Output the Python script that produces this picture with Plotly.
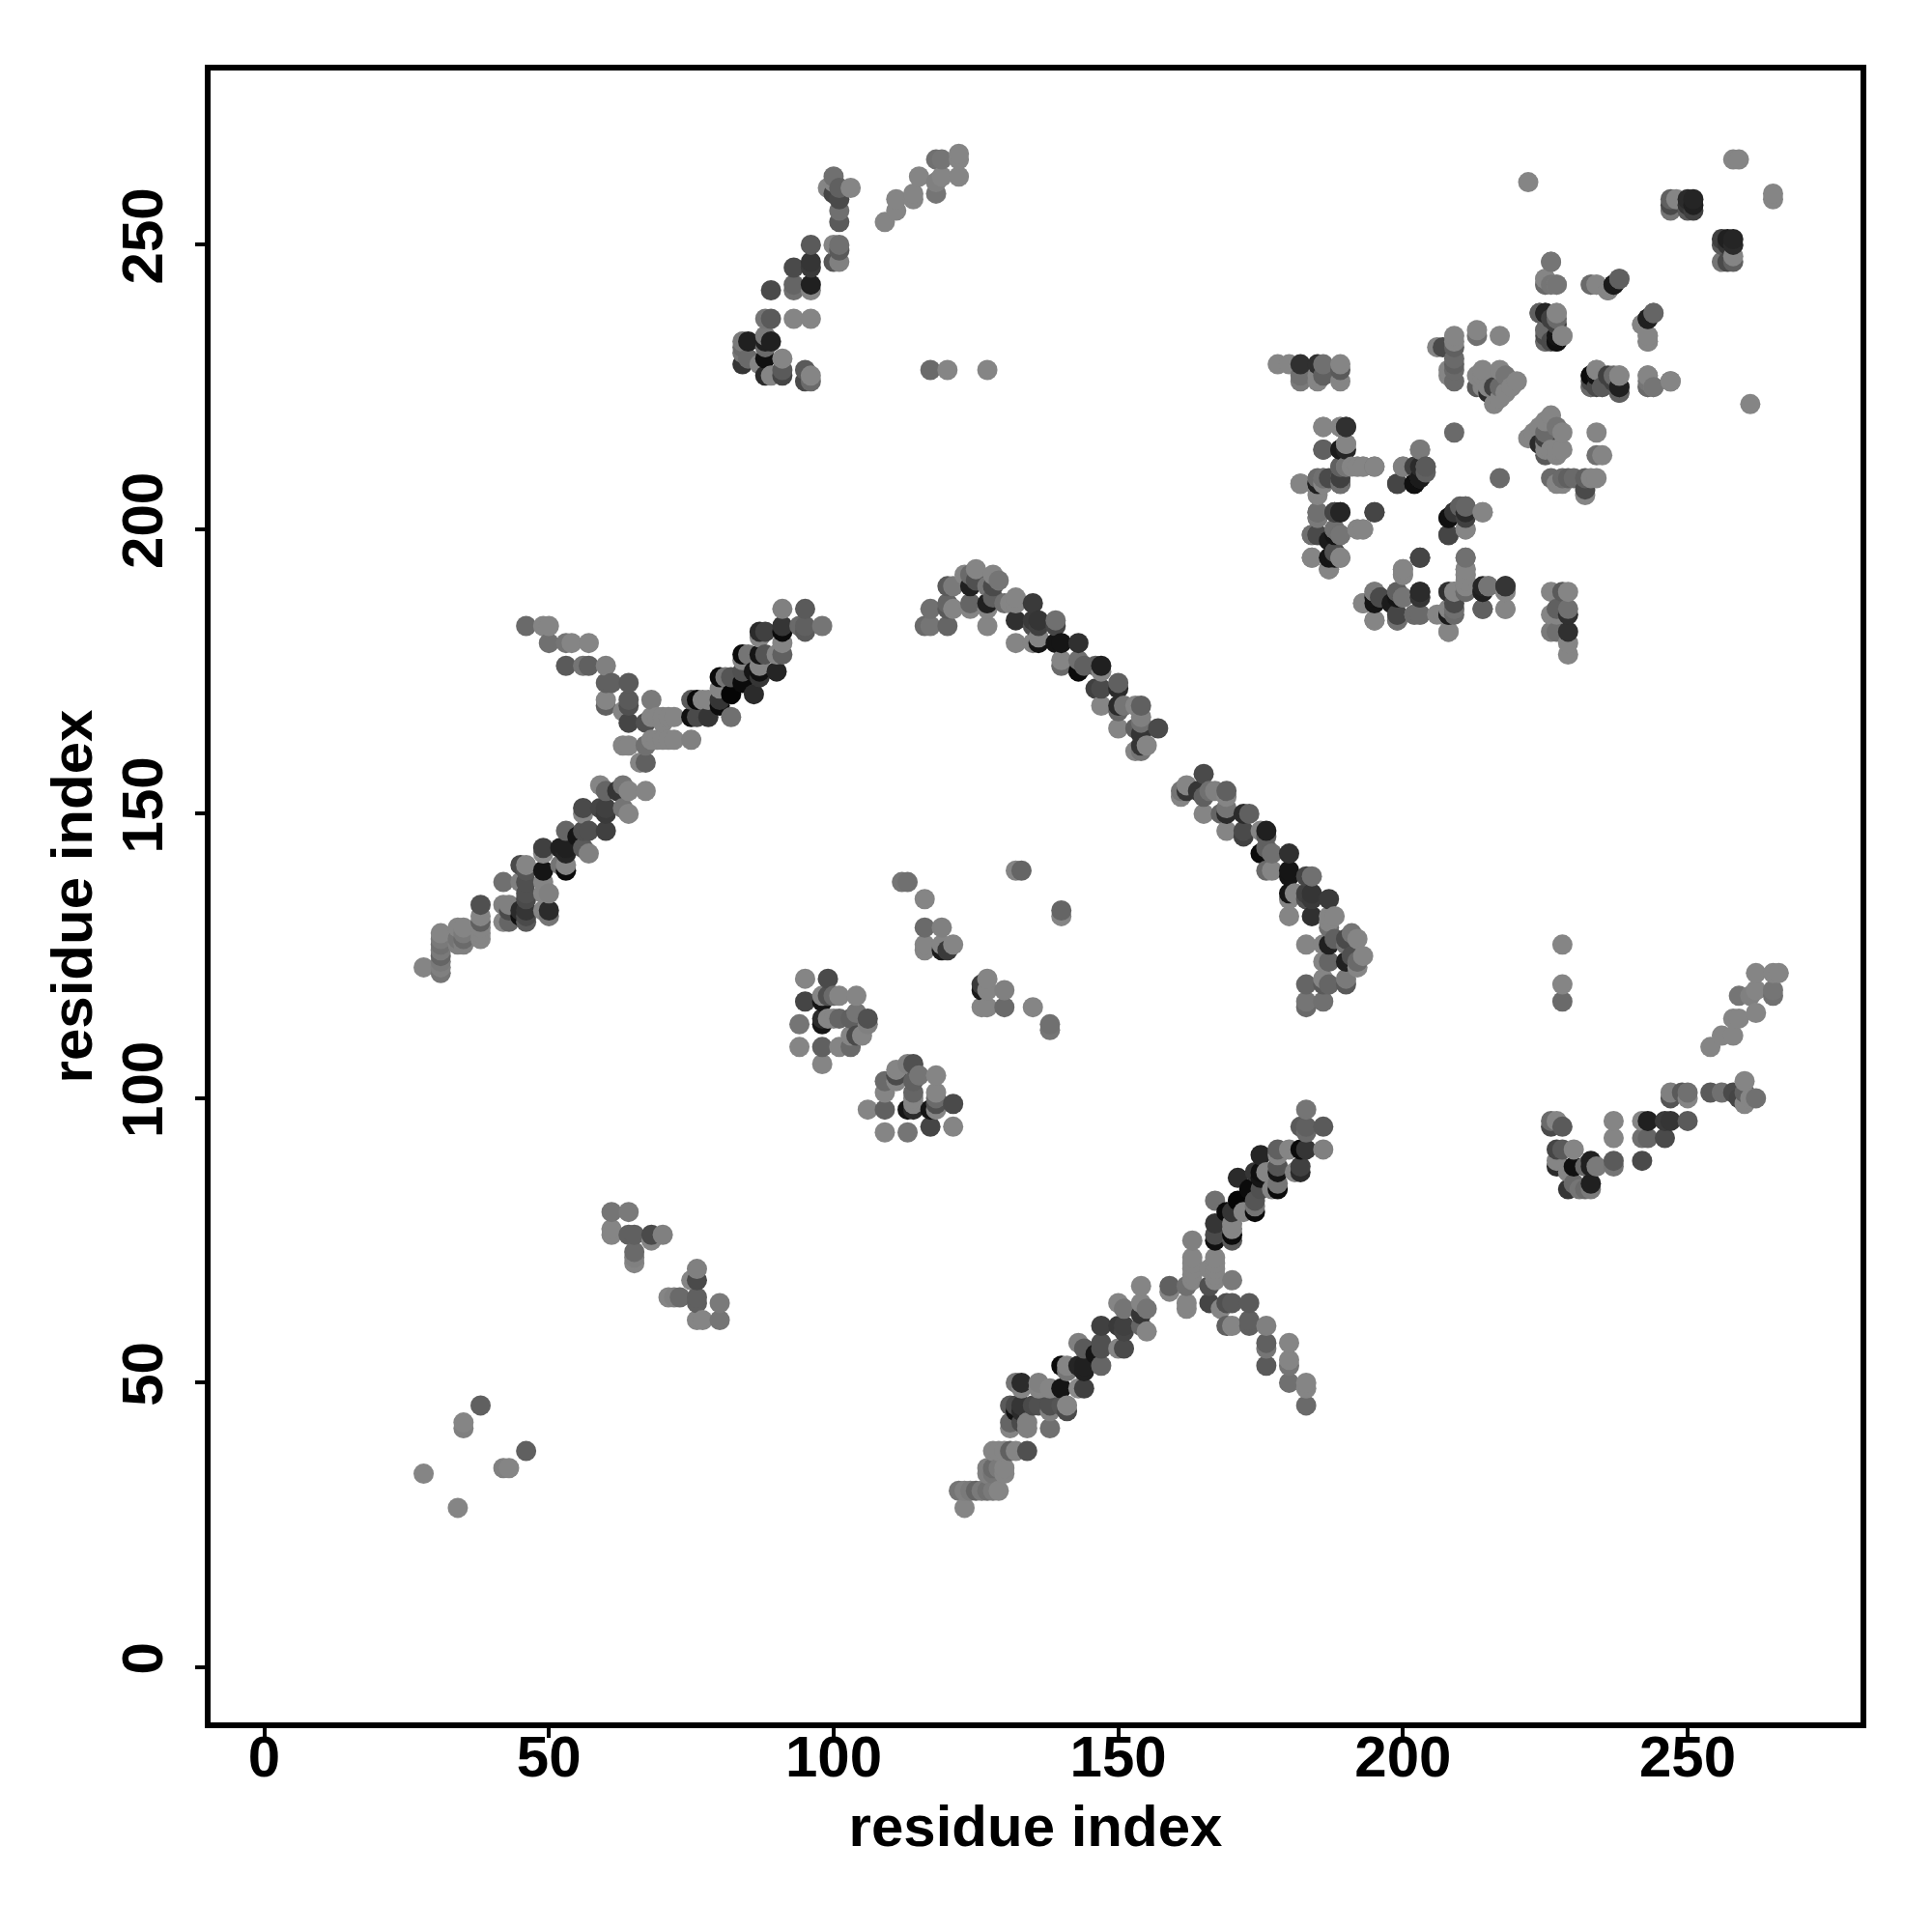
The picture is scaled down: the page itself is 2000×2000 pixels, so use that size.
import numpy as np
import plotly.graph_objects as go

# contacts as (residue i, residue j, grey level); the map is symmetric
band = [(28,123,125),(31,122,110),(31,123,120),(31,124,115),(31,125,95),(31,126,115),(31,127,105),(31,128,115),(31,129,125),
(34,127,120),(34,128,110),(34,130,125),(35,127,120),(35,128,100),(35,129,115),(35,130,125),
(38,128,125),(38,129,125),(38,130,125),(38,131,90),(38,132,125),(38,134,75),
(42,131,125),(42,134,120),(42,138,105),(43,131,95),(43,133,70),(43,134,120),
(45,132,15),(45,133,40),(45,138,120),(45,141,70),
(46,131,85),(46,132,70),(46,133,50),(46,135,70),(46,136,75),(46,138,75),(46,140,80),(46,141,125),
(49,133,125),(49,136,125),(49,138,125),(49,140,20),(49,143,130),(49,144,60),
(50,132,110),(50,133,40),(50,136,120),
(52,141,110),(52,144,30),(53,140,10),(53,141,125),(53,143,35),(53,144,30),(53,147,95),
(55,146,20),(56,144,85),(56,147,75),(56,150,125),(56,151,70),(57,143,120),(57,147,75),
(59,151,65),(59,155,125),(60,147,60),(60,150,55),(60,151,60),(60,154,95),(62,154,50),
(63,151,110),(63,155,110),(63,162,125),(64,150,125),(64,154,125),(64,162,125),
(66,159,125),(67,154,125),(67,159,90),(67,162,105),(67,166,75),
(68,163,125),(68,167,125),(68,170,115),(69,163,125),(69,167,125),(70,163,125),(70,166,125),(70,167,125),(71,163,125),(71,167,125),(72,163,125),(72,167,125),
(75,163,120),(75,167,15),(75,170,85),(76,167,70),(76,170,10),(77,170,125),(78,167,50),(78,170,125),
(80,169,10),(80,170,50),(80,172,125),(80,174,10),(81,174,110),(82,167,105),(82,171,5),(82,174,80),
(84,173,10),(84,175,75),(84,177,125),(84,178,10),(85,178,110),(86,171,40),(86,175,20),
(87,174,50),(87,175,15),(87,176,125),(87,178,20),(87,181,125),(87,182,40),(88,178,80),(88,182,60),
(90,175,35),(90,178,125),(91,178,90),(91,180,125),(91,182,10),(91,183,50),(91,186,120),
(94,183,100),(95,182,85),(95,183,90),(95,186,85),(98,183,110)]

arm = [(46,183,100),(49,183,125),(50,183,125),(50,180,105),(53,180,110),(54,180,125),(57,180,125),
(53,176,85),(56,176,110),(57,176,90),(60,176,120),(60,173,90),(61,173,90),(64,173,85),
(60,169,90),(60,170,125),(63,168,125),(64,166,65),(64,169,75),(64,170,85)]

arc = [(116,183,100),(117,183,110),(120,183,95),(127,183,125),(117,186,105),(120,186,85),(120,187,95),(121,186,125),
(124,186,125),(124,187,95),(127,186,125),(127,187,30),(128,188,90),(120,190,85),(121,190,115),
(123,192,125),(124,190,30),(124,192,100),(125,191,75),(125,193,125),(127,190,110),(128,190,70),(128,192,125),(129,191,110),
(130,187,105),(131,187,125),(132,187,125),(132,188,125),(135,187,55),(132,180,125),(132,184,45),
(135,180,125),(135,183,75),(135,184,55),(136,180,20),(136,181,125),(136,183,60),(136,184,50),
(139,180,20),(139,183,65),(139,184,105),(140,180,20),(143,180,45),(140,176,100),(140,177,125),
(143,175,10),(143,177,105),(144,176,90),(146,172,60),(146,176,90),(147,172,70),(147,175,125),(147,176,30),
(150,172,40),(150,173,90),(147,169,125),(150,168,95),(150,169,40),(151,169,110),(153,169,125),
(154,166,105),(154,167,120),(154,169,90),(150,165,125),(153,165,90),(154,164,50),(157,165,70),
(153,161,125),(154,161,110),(154,162,50),(155,162,125)]

pocket = [(94,109,125),(94,113,110),(95,117,65),(95,121,125),(98,106,125),(98,109,90),(98,113,20),(98,114,40),(98,117,20),(98,118,125),
(99,114,125),(99,118,75),(99,121,70),(100,114,125),(100,118,100),(101,109,125),(101,114,95),(101,118,125),
(103,109,100),(103,111,125),(103,114,90),(104,111,70),(104,115,110),(104,118,125),(105,111,125),(106,113,120),(106,114,75)]

middle = [(112,138,110),(113,138,105),(116,126,125),(116,127,125),(116,130,100),(116,135,125),(119,126,25),(119,127,125),(119,130,120),
(120,126,55),(121,127,125),(132,140,125),(133,140,95)]

lobe = [(84,229,50),(84,231,110),(84,232,100),(84,233,115),(85,230,100),(85,233,30),(87,229,125),(88,227,40),(88,230,15),(88,232,100),(88,233,30),(88,234,115),
(89,227,125),(89,233,30),(91,227,65),(91,228,85),(91,230,125),(95,226,70),(95,228,85),(96,226,100),(96,227,125),
(88,237,110),(89,237,85),(93,237,125),(96,237,125),(89,242,70),(93,242,105),(93,243,95),(96,242,125),(96,243,30),
(93,246,70),(96,246,55),(96,247,50),(96,250,85),(100,247,80),(101,247,120),(100,250,125),(101,249,85),(101,250,105),
(101,254,85),(101,256,105),(101,258,70),(100,259,65),(99,260,125),(101,260,90),(103,260,125),(100,261,125),(100,262,105),
(109,254,125),(111,256,125),(111,258,125),(114,258,125),(114,259,125),(115,262,125),(118,259,110),(118,261,120),(119,262,125),(122,262,125),
(118,265,105),(119,265,110),(122,265,125),(122,266,125),
(117,228,100),(120,228,125),(127,228,125)]

upper_right = [(178,229,125),(180,229,125),(182,226,115),(182,227,105),(182,229,45),(185,226,125),(185,227,125),(185,229,45),(186,227,90),(186,229,105),(189,226,125),(189,228,85),(189,229,125),
(186,218,125),(189,218,125),(190,218,50),(186,214,90),(189,214,30),(190,214,35),(190,215,110),
(189,211,100),(190,211,125),(191,211,125),(192,211,125),(193,211,125),(195,211,105),
(189,208,45),(189,209,125),(185,207,125),(185,208,25),(185,209,100),(186,208,125),(186,209,105),(182,208,125),
(185,202,100),(185,203,100),(188,203,50),(189,203,40),(195,203,65),
(184,199,105),(185,199,65),(188,199,20),(188,200,110),(189,199,90),(192,200,125),(193,200,125),
(184,195,125),(188,195,20),(188,196,70),(189,195,115),(187,193,125),
(199,208,65),(200,211,125),(202,208,15),(203,209,50),(203,211,40),(203,214,125),(204,211,95),(209,217,100),
(206,232,125),(207,232,70),(208,227,125),(208,228,125),(209,226,100),(209,228,100),(209,229,90),(209,230,100),(209,232,90),(209,233,125),(209,234,125),
(213,234,105),(213,235,125),(217,234,125),
(213,225,85),(213,227,125),(214,225,125),(214,226,125),(214,227,125),(214,228,125),(215,224,40),(215,225,125),(216,222,125),(216,225,60),
(217,223,125),(217,225,100),(217,228,125),(218,224,125),(218,227,110),(219,225,125),(220,226,125),
(226,247,125),(225,243,100),(225,244,110),(226,243,110),(227,243,125),
(224,238,90),(225,233,100),(225,235,85),(225,238,30),(227,233,10),(227,234,20),(227,236,60),(227,238,125),(228,234,125),
(233,243,125),(234,243,125),(236,242,125),(237,243,30),(238,244,95),
(242,236,125),(243,233,100),(243,234,125),(243,237,25),(244,238,90),
(233,225,100),(233,226,70),(233,227,15),(234,225,70),(234,228,125),(235,225,100),(237,226,60),(237,227,100),(238,224,90),(238,225,35),(238,227,125),
(243,225,100),(243,227,110),(244,225,125),(247,226,110),
(222,261,125),(247,257,70),(247,258,90),(248,258,125),(250,256,85),(250,258,40),(251,257,30),(251,258,35),
(247,256,110),(250,257,50),(251,256,60),(258,265,125),(259,265,125)]

lower_block = [(193,187,125),(195,187,20),(195,189,125),(196,188,75),(195,184,125),(198,187,25),(199,184,105),(199,185,70),(199,189,110),(200,188,105),
(202,185,115),(203,185,105),(203,188,65),(203,189,35),(200,192,125),(200,193,125),(203,195,65),
(206,185,125),(208,182,125),(208,185,30),(208,189,105),(209,186,105),(209,187,70),(209,189,60),
(211,189,90),(211,190,110),(211,192,125),(211,193,125),(211,195,125),
(214,186,90),(214,189,25),(215,190,125),(218,186,125),(218,189,125),(218,190,45),
(208,199,65),(208,202,15),(209,203,25),(210,204,90),(211,200,120),(211,202,60),(211,204,85),(214,203,115)]

low_left = [(28,34,125),(35,42,120),(35,43,125),(38,46,90),(61,76,125),(61,77,125),(61,80,110),(64,76,90),(64,80,115),(65,71,125),(65,72,120),(65,73,100),(65,76,90),
(68,75,125),(68,76,70),(70,76,120)]

x_ticks = [0, 50, 100, 150, 200, 250]
axis_title = "residue index"
x_range = [-9.42, 280.36]
y_range = [-9.7, 280.63]

contacts = band + arm + arc + pocket + middle + lobe + upper_right + lower_block + low_left
i = np.array([c[0] for c in contacts])
j = np.array([c[1] for c in contacts])
g = np.array([c[2] for c in contacts])

x = np.concatenate([i, j])
y = np.concatenate([j, i])
v = np.concatenate([g, g])
order = np.lexsort((y, x))

font = "Liberation Sans"
fig = go.Figure(go.Scatter(
    x=x[order], y=y[order], mode="markers",
    marker=dict(size=21, color=v[order], cmin=0, cmax=240,
                colorscale=[[0, "#000000"], [1, "#ffffff"]], line=dict(width=0)),
    hoverinfo="skip"))

axis = dict(tickmode="array", tickvals=x_ticks, ticks="outside", ticklen=10, tickwidth=4,
            tickcolor="black", showgrid=False, zeroline=False, showline=True, linecolor="black",
            linewidth=6, mirror=True,
            tickfont=dict(family=font, size=60, color="black", weight="bold"))
title_font = dict(family=font, size=60, color="black", weight="bold")
xa = dict(axis, range=x_range, ticklabelstandoff=-32, title=dict(text=axis_title, font=title_font, standoff=20))
ya = dict(axis, range=y_range, tickangle=-90, ticklabelstandoff=10, title=dict(text=axis_title, font=title_font, standoff=1))

fig.update_layout(width=2000, height=2000, autosize=False, showlegend=False,
                  paper_bgcolor="white", plot_bgcolor="white",
                  margin=dict(l=210, r=82, t=65, b=225, autoexpand=False),
                  xaxis=xa, yaxis=ya)
fig.write_html("out.html")
